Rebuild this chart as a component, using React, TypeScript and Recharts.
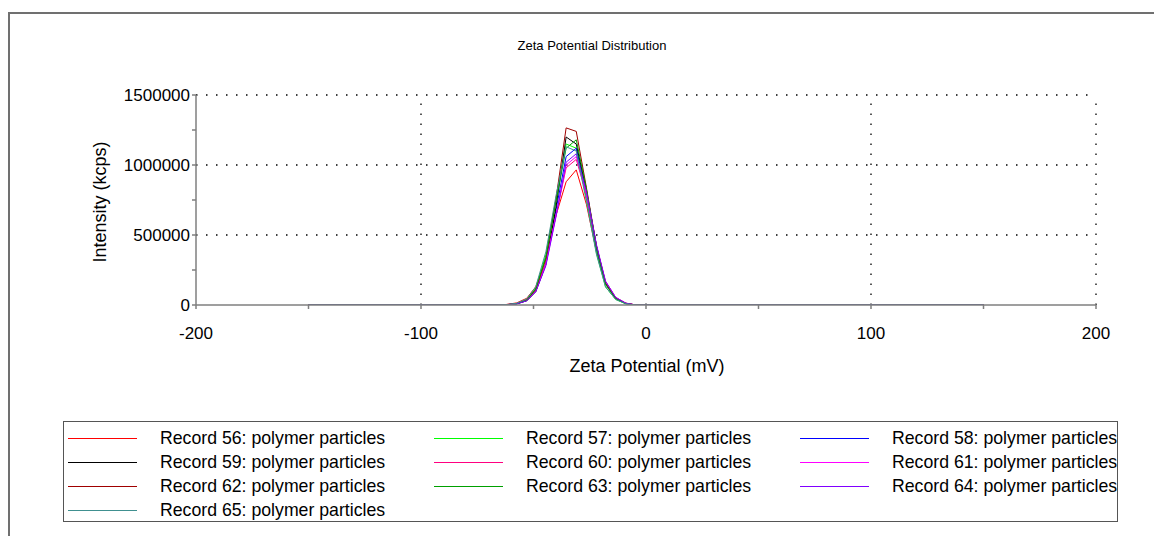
import { LineChart, Line, XAxis, YAxis, ReferenceLine } from "recharts";

// zeta potential (mV) sample points
const zeta = [-150, -66, -62, -57.5, -53, -49, -44.5, -40, -35.5, -31, -26.5, -22, -18, -13.5, -9, -4.5, 150];

const rec56 = [0, 0, 4000, 15000, 48000, 130000, 330000, 640000, 880000, 965000, 720000, 380000, 150000, 50000, 12000, 0, 0];
const rec57 = [0, 0, 2000, 10000, 40000, 120000, 360000, 760000, 1150000, 1120000, 760000, 370000, 130000, 40000, 8000, 0, 0];
const rec58 = [0, 0, 2000, 8000, 32000, 100000, 300000, 680000, 1060000, 1120000, 800000, 400000, 150000, 45000, 10000, 0, 0];
const rec59 = [0, 0, 2000, 8000, 30000, 95000, 290000, 700000, 1200000, 1150000, 820000, 420000, 160000, 50000, 12000, 0, 0];
const rec60 = [0, 0, 3000, 12000, 40000, 110000, 300000, 640000, 980000, 1040000, 790000, 420000, 170000, 55000, 14000, 0, 0];
const rec61 = [0, 0, 2000, 9000, 34000, 100000, 290000, 640000, 1000000, 1060000, 800000, 420000, 165000, 52000, 12000, 0, 0];
const rec62 = [0, 0, 2000, 9000, 35000, 110000, 330000, 760000, 1265000, 1240000, 840000, 420000, 155000, 48000, 11000, 0, 0];
const rec63 = [0, 0, 2000, 9000, 36000, 115000, 340000, 740000, 1120000, 1180000, 830000, 410000, 150000, 45000, 10000, 0, 0];
const rec64 = [0, 0, 2000, 8000, 30000, 95000, 280000, 630000, 1020000, 1080000, 810000, 430000, 170000, 55000, 13000, 0, 0];
const rec65 = [0, 0, 3000, 12000, 44000, 130000, 380000, 780000, 1130000, 1100000, 740000, 360000, 130000, 40000, 9000, 0, 0];

const xTicks = [-200, -150, -100, -50, 0, 50, 100, 150, 200];
const yTicks = [0, 250000, 500000, 750000, 1000000, 1250000, 1500000];
const xGrid = [-100, 0, 100, 200];
const yGrid = [500000, 1000000, 1500000];

const series = [
  { key: "r56", name: "Record 56: polymer particles", color: "#ff0000", values: rec56 },
  { key: "r57", name: "Record 57: polymer particles", color: "#00ff00", values: rec57 },
  { key: "r58", name: "Record 58: polymer particles", color: "#0000ff", values: rec58 },
  { key: "r59", name: "Record 59: polymer particles", color: "#000000", values: rec59 },
  { key: "r60", name: "Record 60: polymer particles", color: "#ff0080", values: rec60 },
  { key: "r61", name: "Record 61: polymer particles", color: "#ff00ff", values: rec61 },
  { key: "r62", name: "Record 62: polymer particles", color: "#a00000", values: rec62 },
  { key: "r63", name: "Record 63: polymer particles", color: "#00a000", values: rec63 },
  { key: "r64", name: "Record 64: polymer particles", color: "#8000ff", values: rec64 },
  { key: "r65", name: "Record 65: polymer particles", color: "#409090", values: rec65 },
];

const data = zeta.map((z, i) => {
  const row: Record<string, number> = { z };
  series.forEach((s) => (row[s.key] = s.values[i]));
  return row;
});

const font = "'Liberation Sans', Arial, sans-serif";
const axisColor = "#7f7f7f";

export default function App() {
  return (
    <div style={{ position: "relative", width: 1154, height: 528, overflow: "hidden", fontFamily: font, color: "#000" }}>
      {/* outer frame, runs off the right/bottom edge */}
      <div style={{ position: "absolute", left: 0, top: 4, width: 1300, height: 700, border: "2px solid #707070" }} />

      <div style={{ position: "absolute", left: 584, top: 37, transform: "translate(-50%,-50%)", fontSize: 13, whiteSpace: "nowrap" }}>
        Zeta Potential Distribution
      </div>
      <div style={{ position: "absolute", left: 92, top: 194, transform: "translate(-50%,-50%) rotate(-90deg)", fontSize: 18, whiteSpace: "nowrap" }}>
        Intensity (kcps)
      </div>
      <div style={{ position: "absolute", left: 639, top: 358, transform: "translate(-50%,-50%)", fontSize: 18, whiteSpace: "nowrap" }}>
        Zeta Potential (mV)
      </div>

      <div style={{ position: "absolute", left: 0, top: 0 }}>
        <LineChart width={1154} height={400} data={data} margin={{ top: 87, right: 66, left: 0, bottom: 0 }}>
          {xGrid.map((v) => (
            <ReferenceLine key={"x" + v} x={v} stroke="#000" strokeWidth={1.3} strokeDasharray="1.5 8.5" />
          ))}
          {yGrid.map((v) => (
            <ReferenceLine key={"y" + v} y={v} stroke="#000" strokeWidth={1.3} strokeDasharray="1.5 8.5" />
          ))}
          <XAxis
            dataKey="z"
            type="number"
            domain={[-200, 200]}
            ticks={xTicks}
            tickFormatter={(v: number) => (v % 100 === 0 ? String(v) : "")}
            height={103}
            stroke={axisColor}
            strokeWidth={1.5}
            tickSize={4}
            tickMargin={18}
            tick={{ fill: "#000", fontSize: 17, fontFamily: font }}
          />
          <YAxis
            type="number"
            domain={[0, 1500000]}
            ticks={yTicks}
            tickFormatter={(v: number) => (v % 500000 === 0 ? String(v) : "")}
            width={188}
            stroke={axisColor}
            strokeWidth={1.5}
            tickSize={4}
            tickMargin={2}
            tick={{ fill: "#000", fontSize: 17, fontFamily: font }}
            allowDataOverflow
          />
          {series.map((s) => (
            <Line
              key={s.key}
              dataKey={s.key}
              name={s.name}
              type="linear"
              stroke={s.color}
              strokeWidth={1}
              dot={false}
              isAnimationActive={false}
            />
          ))}
        </LineChart>
      </div>

      {/* legend box */}
      <div
        style={{
          position: "absolute",
          left: 55,
          top: 413,
          width: 1055,
          height: 101,
          border: "1px solid #555",
          display: "grid",
          gridTemplateColumns: "366px 366px 323px",
          gridAutoRows: "24px",
          paddingTop: 4,
          boxSizing: "border-box",
          fontSize: 17.7,
        }}
      >
        {series.map((s) => (
          <div key={s.key} style={{ position: "relative", height: 24, whiteSpace: "nowrap" }}>
            <div style={{ position: "absolute", left: 4, top: 12, width: 69, height: 1, background: s.color }} />
            <div style={{ position: "absolute", left: 96, top: 2, lineHeight: "20px" }}>{s.name}</div>
          </div>
        ))}
      </div>
    </div>
  );
}
